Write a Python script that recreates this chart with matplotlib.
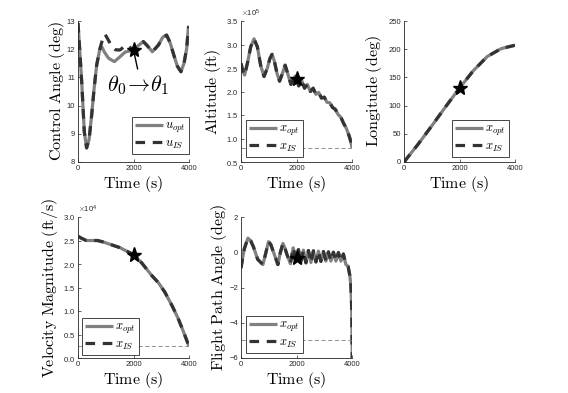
import matplotlib
matplotlib.use('Agg')
import matplotlib.pyplot as plt
import numpy as np

plt.rcParams['mathtext.fontset'] = 'cm'
plt.rcParams['font.family'] = ['Liberation Sans', 'DejaVu Sans']

# ---- data ----
# control angle (deg)
t_u_opt = [0, 60, 133, 227, 310, 400, 493, 580, 673, 793, 860, 950, 1100, 1310, 1500, 1700,
           2000, 2200, 2355, 2500, 2680, 2900, 3050, 3195, 3330, 3450, 3580, 3710, 3820, 3917, 3975, 4000]
u_opt = [12.93, 12.0, 10.85, 9.07, 8.5, 8.8, 9.67, 10.6, 11.44, 12.03, 12.08, 11.9, 11.68, 11.56, 11.72, 11.9,
         11.97, 12.15, 12.27, 12.12, 11.91, 12.15, 12.42, 12.5, 12.2, 11.8, 11.4, 11.2, 11.5, 12.03, 12.74, 12.82]
t_u_is = [0, 60, 133, 227, 310, 400, 493, 580, 673, 793, 900, 975, 1090, 1200, 1350, 1510, 1650, 1750, 1850,
          2000, 2200, 2355, 2500, 2680, 2900, 3050, 3195, 3330, 3450, 3580, 3710, 3820, 3917, 3975, 4000]
u_is = [12.93, 12.0, 10.85, 9.07, 8.5, 8.8, 9.67, 10.6, 11.44, 12.03, 12.4, 12.53, 12.33, 12.12, 11.98, 11.97,
        12.08, 12.15, 12.08, 11.97, 12.15, 12.27, 12.12, 11.91, 12.15, 12.42, 12.5, 12.2, 11.8, 11.4, 11.2, 11.5,
        12.03, 12.74, 12.82]

# altitude (x1e5 ft)
t_alt = [0, 60, 130, 230, 350, 470, 590, 710, 830, 950, 1040, 1120, 1200, 1300, 1390, 1490, 1590, 1700, 1800,
         1900, 1960, 2080, 2180, 2290, 2390, 2500, 2600, 2700, 2800, 2900, 3000, 3100, 3200, 3300, 3400,
         3500, 3600, 3700, 3800, 3900, 3960, 4000]
alt = [2.6, 2.45, 2.35, 2.6, 2.95, 3.12, 2.95, 2.55, 2.32, 2.5, 2.7, 2.79, 2.65, 2.38, 2.22, 2.38, 2.56, 2.35, 2.15,
       2.28, 2.33, 2.12, 2.24, 2.07, 2.15, 2.0, 2.07, 1.94, 1.98, 1.86, 1.88, 1.77, 1.76, 1.66, 1.62,
       1.51, 1.45, 1.32, 1.21, 1.05, 0.93, 0.8]
alt_final = 0.8

# longitude (deg)
t_lon = [0, 500, 1000, 1500, 2000, 2500, 3000, 3500, 4000]
lon = [0, 31, 64, 98, 131, 162, 187, 201, 207]

# velocity magnitude (x1e4 ft/s)
t_vel = [0, 150, 300, 500, 700, 900, 1100, 1300, 1500, 1700, 2000, 2300, 2650, 2900, 3130, 3400, 3610, 3800, 4000]
vel = [2.59, 2.54, 2.50, 2.50, 2.50, 2.47, 2.43, 2.39, 2.35, 2.29, 2.20, 2.02, 1.76, 1.60, 1.40, 1.10, 0.84, 0.56, 0.25]
vel_final = 0.25

# flight path angle (deg)
t_fpa = [0, 60, 120, 250, 350, 450, 600, 790, 900, 990, 1070, 1150, 1330, 1420, 1510, 1580, 1650, 1780, 1880,
         1980, 2070, 2160, 2250, 2340, 2430, 2520, 2610, 2700, 2790, 2880, 2970, 3060, 3150, 3240, 3330,
         3420, 3510, 3600, 3690, 3780, 3860, 3920, 3960, 3990, 4010]
fpa = [-0.9, -0.3, 0.2, 0.8, 0.65, 0.3, -0.4, -0.7, 0.0, 0.6, 0.45, 0.1, -0.7, 0.0, 0.5, 0.25, -0.1, -0.65, 0.25,
       -0.4, 0.15, -0.6, 0.12, -0.6, 0.1, -0.58, 0.08, -0.55, 0.06, -0.52, 0.04, -0.5, 0.02, -0.5, 0.0,
       -0.5, -0.02, -0.5, -0.1, -0.7, -0.8, -1.3, -1.9, -3.2, -6.2]
fpa_final = -5.0

star_t = 2000
star_vals = {'u': 11.97, 'alt': 2.27, 'lon': 131, 'vel': 2.20, 'fpa': -0.35}

grey = '#808080'
dark = '#333333'
lw = 2.3


def style_ax(ax, ylim, yticks, ylabel, lab_x):
    ax.set_xlim(0, 4000)
    ax.set_ylim(*ylim)
    ax.set_xticks([0, 2000, 4000])
    ax.set_yticks(yticks)
    for s in ['top', 'right']:
        ax.spines[s].set_visible(False)
    for s in ['left', 'bottom']:
        ax.spines[s].set_color('#262626')
        ax.spines[s].set_linewidth(0.6)
    ax.tick_params(direction='in', length=2, width=0.5, labelsize=5.5, colors='#262626', pad=2)
    ax.set_xlabel(r'$\mathrm{Time\ (s)}$', fontsize=11.5, labelpad=1.5)
    ax.set_ylabel(ylabel, fontsize=11.5)
    ax.yaxis.set_label_coords(lab_x, 0.5)


def plot_pair(ax, t1, y1, t2, y2, lab1, lab2):
    ax.plot(t1, y1, color=grey, lw=lw, label=lab1, solid_capstyle='butt')
    ax.plot(t2, y2, color=dark, lw=lw, ls=(0, (3.0, 2.4)), label=lab2, dash_capstyle='butt')


def add_legend(ax, loc, anchor):
    leg = ax.legend(loc=loc, bbox_to_anchor=anchor, fontsize=9, fancybox=False, framealpha=1,
                    edgecolor='#262626', handlelength=2.2, handletextpad=0.2, borderpad=0.25,
                    labelspacing=0.2, borderaxespad=0)
    leg.get_frame().set_linewidth(0.6)


fig = plt.figure(figsize=(5.68, 3.93), dpi=100)
W, H = 568.0, 393.0


def make_ax(left_px, top_px):
    return fig.add_axes([left_px / W, 1 - (top_px + 141) / H, 111 / W, 141 / H])


# control angle
ax = make_ax(78, 21)
plot_pair(ax, t_u_opt, u_opt, t_u_is, u_is, r'$u_{opt}$', r'$u_{IS}$')
ax.plot(star_t, star_vals['u'], marker='*', color='k', ms=11, zorder=5)
ax.annotate('', xy=(star_t, star_vals['u']), xytext=(2170, 11.2),
            arrowprops=dict(arrowstyle='-', color='k', lw=1))
ax.text(2180, 10.73, r'$\theta_{\mathsf{0}}\!\rightarrow\!\theta_{\mathsf{1}}$', fontsize=16,
        ha='center', va='center')
style_ax(ax, (8, 13), [8, 9, 10, 11, 12, 13], r'$\mathrm{Control\ Angle\ (deg)}$', -0.10)
add_legend(ax, 'lower right', (1.0, 8 / 141))

# altitude
ax = make_ax(241, 21)
plot_pair(ax, t_alt, np.array(alt) * 1e5, t_alt, np.array(alt) * 1e5, r'$x_{opt}$', r'$x_{IS}$')
ax.axhline(alt_final * 1e5, color=grey, lw=0.6, ls=(0, (5, 3)))
ax.plot(star_t, star_vals['alt'] * 1e5, marker='*', color='k', ms=11, zorder=5)
style_ax(ax, (0.5e5, 3.5e5), np.arange(0.5, 3.6, 0.5) * 1e5, r'$\mathrm{Altitude\ (ft)}$', -0.164)
ax.ticklabel_format(axis='y', style='sci', scilimits=(0, 0), useMathText=True)
ax.yaxis.get_offset_text().set_fontsize(5.5)
add_legend(ax, 'lower left', (5 / 111, 5 / 141))

# longitude
ax = make_ax(404, 21)
plot_pair(ax, t_lon, lon, t_lon, lon, r'$x_{opt}$', r'$x_{IS}$')
ax.plot(star_t, star_vals['lon'], marker='*', color='k', ms=11, zorder=5)
style_ax(ax, (0, 250), [0, 50, 100, 150, 200, 250], r'$\mathrm{Longitude\ (deg)}$', -0.182)
add_legend(ax, 'lower right', (1 - 6 / 111, 5 / 141))

# velocity
ax = make_ax(78, 217)
plot_pair(ax, t_vel, np.array(vel) * 1e4, t_vel, np.array(vel) * 1e4, r'$x_{opt}$', r'$x_{IS}$')
ax.axhline(vel_final * 1e4, color=grey, lw=0.6, ls=(0, (5, 3)))
ax.plot(star_t, star_vals['vel'] * 1e4, marker='*', color='k', ms=11, zorder=5)
style_ax(ax, (0, 3e4), np.arange(0, 3.1, 0.5) * 1e4, r'$\mathrm{Velocity\ Magnitude\ (ft/s)}$', -0.163)
ax.ticklabel_format(axis='y', style='sci', scilimits=(0, 0), useMathText=True)
ax.yaxis.get_offset_text().set_fontsize(5.5)
add_legend(ax, 'lower left', (4 / 111, 3 / 141))

# flight path angle
ax = make_ax(241, 217)
plot_pair(ax, t_fpa, fpa, t_fpa, fpa, r'$x_{opt}$', r'$x_{IS}$')
ax.axhline(fpa_final, color=grey, lw=0.6, ls=(0, (5, 3)))
ax.plot(star_t, star_vals['fpa'], marker='*', color='k', ms=11, zorder=5)
style_ax(ax, (-6, 2), [-6, -4, -2, 0, 2], r'$\mathrm{Flight\ Path\ Angle\ (deg)}$', -0.11)
add_legend(ax, 'lower left', (5 / 111, 5 / 141))

fig.savefig('out.png', dpi=100)
